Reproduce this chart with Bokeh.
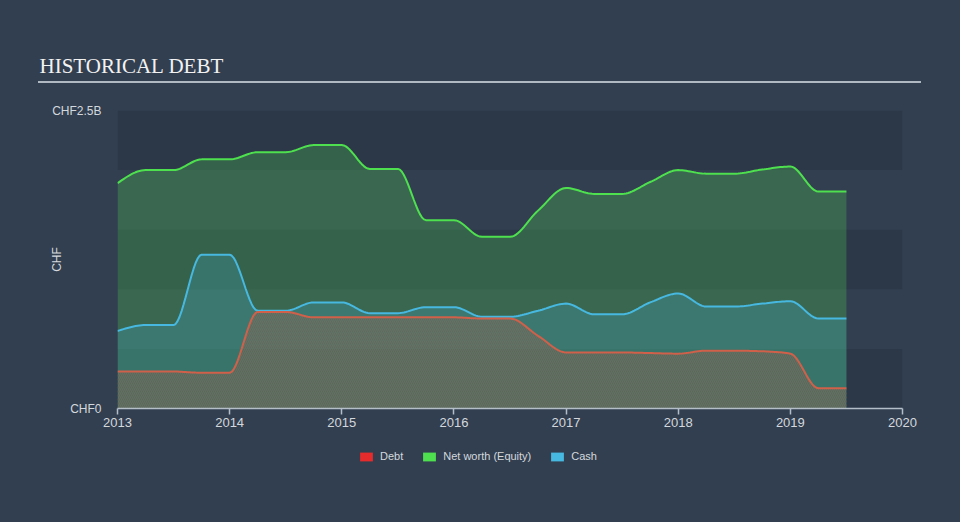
import numpy as np
from bokeh.plotting import figure
from bokeh.layouts import column
from bokeh.models import (Range1d, FixedTicker, BoxAnnotation, Legend, LegendItem)
from bokeh.embed import file_html
from bokeh.resources import INLINE

# ---------------- data (CHF billions, quarterly) ----------------
quarters = [2013.0, 2013.25, 2013.5, 2013.75,
            2014.0, 2014.25, 2014.5, 2014.75,
            2015.0, 2015.25, 2015.5, 2015.75,
            2016.0, 2016.25, 2016.5, 2016.75,
            2017.0, 2017.25, 2017.5, 2017.75,
            2018.0, 2018.25, 2018.5, 2018.75,
            2019.0, 2019.25, 2019.5]
equity = [1.89, 2.00, 2.00, 2.09, 2.09, 2.15, 2.15, 2.21, 2.21, 2.01, 2.01,
          1.58, 1.58, 1.44, 1.44, 1.66, 1.85, 1.80, 1.80, 1.90, 2.00, 1.97,
          1.97, 2.005, 2.03, 1.82, 1.82]
cash = [0.65, 0.70, 0.70, 1.29, 1.29, 0.82, 0.82, 0.89, 0.89, 0.80, 0.80,
        0.85, 0.85, 0.77, 0.77, 0.82, 0.88, 0.79, 0.79, 0.89, 0.965, 0.855,
        0.855, 0.88, 0.90, 0.755, 0.755]
debt = [0.31, 0.31, 0.31, 0.30, 0.30, 0.81, 0.81, 0.765, 0.765, 0.765, 0.765,
        0.765, 0.765, 0.755, 0.755, 0.61, 0.47, 0.47, 0.47, 0.465, 0.46, 0.485,
        0.485, 0.48, 0.46, 0.17, 0.17]
year_ticks = [2013, 2014, 2015, 2016, 2017, 2018, 2019, 2020]
y_ticks = [0, 2.5]
y_tick_labels = {0: "CHF0", 2.5: "CHF2.5B"}
band_edges = [(0, 0.5), (1.0, 1.5), (2.0, 2.5)]
series_names = ["Debt", "Net worth (Equity)", "Cash"]
chart_title = "HISTORICAL DEBT"
y_title = "CHF"

# ---------------- style ----------------
BG = "#323f50"
BAND = "#2c3848"
GREEN = "#4ee04e"
BLUE = "#47b8e0"
RED = "#e52b2b"
DEBT_LINE = "#d0604a"
RULE = "#b0b8c2"
TXT = "#d4d8dd"
FONT = "Liberation Sans"
W = 960
MAIN_H = 440
LEG_H = 522 - MAIN_H
FL, FR, FT, FB = 117, 902, 110, 408

# page background (and the thin rule under the title) drawn by CSS, so the
# transparent SVG canvases show no seams
main_css = {"background": f"linear-gradient({RULE}, {RULE}) 38px 81px / 883px 2px no-repeat, {BG}"}
plain_css = {"background": BG}


def monotone(xs, ys, n=14):
    """Monotone cubic (d3 curveMonotoneX) rendering of the data points."""
    xs = np.asarray(xs, float)
    ys = np.asarray(ys, float)
    h = np.diff(xs)
    s = np.diff(ys) / h
    N = len(xs)
    t = np.zeros(N)
    for i in range(1, N - 1):
        s0, s1 = s[i - 1], s[i]
        pp = (s0 * h[i] + s1 * h[i - 1]) / (h[i - 1] + h[i])
        t[i] = (np.sign(s0) + np.sign(s1)) * min(abs(s0), abs(s1), 0.5 * abs(pp))
    t[0] = (3 * s[0] - t[1]) / 2
    t[-1] = (3 * s[-1] - t[-2]) / 2
    ox, oy = [], []
    for i in range(N - 1):
        u = np.linspace(0, 1, n, endpoint=False)
        h00 = 2 * u**3 - 3 * u**2 + 1
        h10 = u**3 - 2 * u**2 + u
        h01 = -2 * u**3 + 3 * u**2
        h11 = u**3 - u**2
        ox.extend(xs[i] + u * h[i])
        oy.extend(h00 * ys[i] + h10 * h[i] * t[i] + h01 * ys[i + 1] + h11 * h[i] * t[i + 1])
    ox.append(xs[-1])
    oy.append(ys[-1])
    return np.array(ox), np.array(oy)


def bare(f):
    f.background_fill_color = None
    f.border_fill_color = None
    f.outline_line_color = None
    f.xgrid.visible = False
    f.ygrid.visible = False


# ---------------- main chart ----------------
fig = figure(width=W, height=MAIN_H, output_backend="svg", toolbar_location=None,
             x_range=Range1d(2013, 2020), y_range=Range1d(0, 2.5),
             title=chart_title, styles=main_css)
bare(fig)
fig.min_border_left = FL
fig.min_border_right = W - FR
fig.min_border_top = FT
fig.min_border_bottom = MAIN_H - FB

fig.title.align = "left"
fig.title.offset = 39 - FL
fig.title.standoff = 66
fig.title.text_font = "Liberation Serif"
fig.title.text_font_size = "21px"
fig.title.text_font_style = "normal"
fig.title.text_color = "#f2f2f2"

for b0, b1 in band_edges:
    fig.add_layout(BoxAnnotation(bottom=b0, top=b1, fill_color=BAND, fill_alpha=1.0,
                                 line_color=None, level="underlay"))

xe, ye = monotone(quarters, equity)
xc, yc = monotone(quarters, cash)
xd, yd = monotone(quarters, debt)

fig.varea(x=xe, y1=0, y2=ye, fill_color=GREEN, fill_alpha=0.25)
fig.varea(x=xc, y1=0, y2=yc, fill_color=BLUE, fill_alpha=0.22)
fig.varea(x=xd, y1=0, y2=yd, fill_color="#7a7468", fill_alpha=0.06,
          hatch_pattern="\\", hatch_color="#c8543e", hatch_alpha=0.5,
          hatch_scale=4, hatch_weight=1.0)

fig.line(xe, ye, line_color=GREEN, line_width=2)
fig.line(xc, yc, line_color=BLUE, line_width=2)
fig.line(xd, yd, line_color=DEBT_LINE, line_width=2)

fig.xaxis.ticker = FixedTicker(ticks=year_ticks)
fig.xaxis.axis_line_color = "#b4bec9"
fig.xaxis.axis_line_width = 1.5
fig.xaxis.major_tick_line_color = "#b4bec9"
fig.xaxis.major_tick_line_width = 1.5
fig.xaxis.major_tick_out = 6
fig.xaxis.major_tick_in = 0
fig.xaxis.minor_tick_line_color = None
fig.xaxis.major_label_standoff = 3
fig.xaxis.major_label_text_font = FONT
fig.xaxis.major_label_text_font_size = "13px"
fig.xaxis.major_label_text_color = TXT

fig.yaxis.ticker = FixedTicker(ticks=y_ticks)
fig.yaxis.major_label_overrides = y_tick_labels
fig.yaxis.axis_line_color = None
fig.yaxis.major_tick_line_color = None
fig.yaxis.minor_tick_line_color = None
fig.yaxis.major_tick_out = 0
fig.yaxis.major_tick_in = 0
fig.yaxis.major_label_standoff = 16
fig.yaxis.major_label_text_font = FONT
fig.yaxis.major_label_text_font_size = "12px"
fig.yaxis.major_label_text_color = TXT
fig.yaxis.axis_label = y_title
fig.yaxis.axis_label_standoff = -15
fig.yaxis.axis_label_text_font = FONT
fig.yaxis.axis_label_text_font_size = "12px"
fig.yaxis.axis_label_text_font_style = "normal"
fig.yaxis.axis_label_text_color = TXT

# ---------------- legend strip ----------------
lfig = figure(width=W, height=LEG_H, output_backend="svg", toolbar_location=None,
              x_range=Range1d(0, 1), y_range=Range1d(0, 1),
              x_axis_type=None, y_axis_type=None, styles=plain_css)
bare(lfig)
lfig.min_border_left = FL
lfig.min_border_right = W - FR
lfig.min_border_top = 0
lfig.min_border_bottom = 0
nan1 = np.array([np.nan])
rs = [lfig.quad(left=nan1, right=nan1, top=nan1, bottom=nan1, fill_color=c, line_color=None)
      for c in (RED, GREEN, BLUE)]
legend = Legend(items=[LegendItem(label=n, renderers=[r]) for n, r in zip(series_names, rs)],
                orientation="horizontal", location=(358 - FL, 60),
                glyph_width=16, glyph_height=11, label_standoff=6, spacing=18,
                padding=0, margin=0, border_line_alpha=0, background_fill_alpha=0,
                label_text_font=FONT, label_text_font_size="11px",
                label_text_color=TXT)
lfig.add_layout(legend)

p = column(fig, lfig, spacing=0, styles=plain_css)
open("out.html", "w").write(file_html(p, INLINE))
